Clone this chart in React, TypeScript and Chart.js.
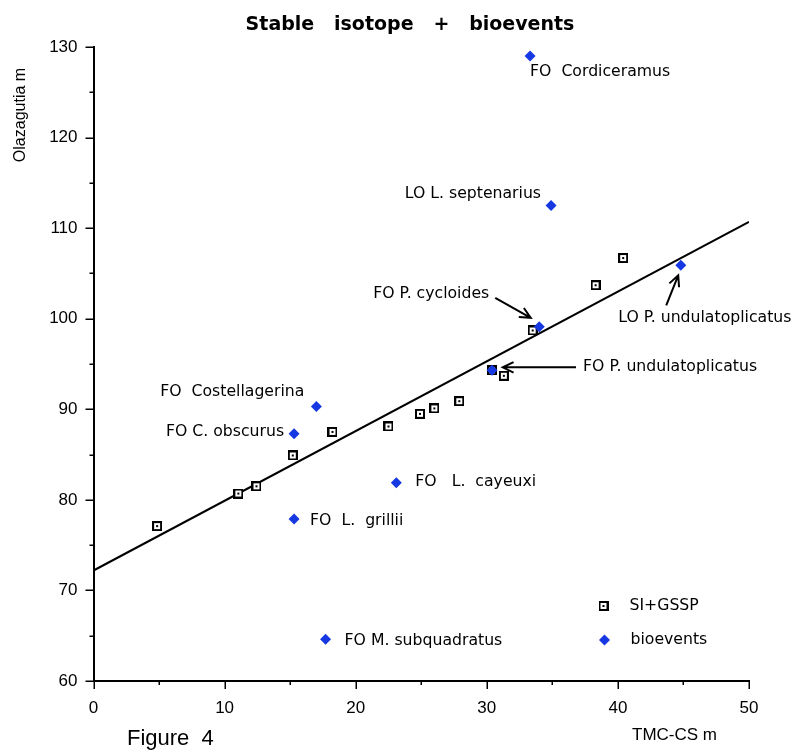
import React, { useEffect, useRef } from "react";
import { Chart, registerables } from "chart.js";

Chart.register(...registerables);

// ---- data ----
const siX = [4.85, 11.05, 12.43, 15.2, 18.23, 22.5, 24.9, 26.0, 27.9, 30.4, 31.3, 33.5, 38.3, 40.4];
const siY = [77.1, 80.7, 81.5, 84.9, 87.5, 88.1, 89.5, 90.1, 90.9, 94.3, 93.7, 98.7, 103.7, 106.7];

const bioNames = [
  "FO  Cordiceramus",
  "LO L. septenarius",
  "FO P. cycloides",
  "LO P. undulatoplicatus",
  "FO P. undulatoplicatus",
  "FO  Costellagerina",
  "FO C. obscurus",
  "FO   L.  cayeuxi",
  "FO  L.  grillii",
  "FO M. subquadratus",
];
const bioX = [33.3, 34.9, 34.0, 44.8, 30.4, 17.0, 15.3, 23.1, 15.3, 17.7];
const bioY = [129.0, 112.5, 99.1, 105.9, 94.3, 90.3, 87.3, 81.9, 77.9, 64.6];

const fitX = [0, 50];
const fitY = [72.2, 110.7];

const legendLabels = ["SI+GSSP", "bioevents"];
const titleText = "Stable   isotope   +   bioevents";
const xTitle = "TMC-CS m";
const yTitle = "Olazagutia m";
const figureText = "Figure  4";

// ---- style (pixel offsets of labels relative to their point) ----
type Lay = { dx: number; dy: number; align: CanvasTextAlign; arrow?: [number, number, number, number] };
const bioLabelLayout: Lay[] = [
  { dx: 0, dy: 16, align: "left" },
  { dx: -10, dy: -12, align: "right" },
  { dx: -50, dy: -33, align: "right", arrow: [-44, -29, -8.5, -9] },
  { dx: -62.6, dy: 53, align: "left", arrow: [-14.6, 40, -2.6, 10] },
  { dx: 91, dy: -3, align: "left", arrow: [84, -3, 10.7, -3] },
  { dx: -12, dy: -15, align: "right" },
  { dx: -10, dy: -2, align: "right" },
  { dx: 19, dy: -1, align: "left" },
  { dx: 16, dy: 2, align: "left" },
  { dx: 19, dy: 2, align: "left" },
];

const BLUE = "#1638e2";
const LABEL_FONT = '15.7px "DejaVu Sans"';

function makeSquare(): HTMLCanvasElement {
  const c = document.createElement("canvas");
  c.width = 10;
  c.height = 10;
  const g = c.getContext("2d")!;
  g.fillStyle = "#000";
  g.fillRect(0, 0, 10, 10);
  g.fillStyle = "#fff";
  g.fillRect(2, 2, 6, 6);
  g.fillStyle = "#000";
  g.fillRect(4, 4, 2, 2);
  return c;
}

function arrow(ctx: CanvasRenderingContext2D, fx: number, fy: number, tx: number, ty: number) {
  ctx.beginPath();
  ctx.moveTo(fx, fy);
  ctx.lineTo(tx, ty);
  const ang = Math.atan2(ty - fy, tx - fx);
  const L = 12;
  const a = 0.45;
  ctx.moveTo(tx - L * Math.cos(ang - a), ty - L * Math.sin(ang - a));
  ctx.lineTo(tx, ty);
  ctx.lineTo(tx - L * Math.cos(ang + a), ty - L * Math.sin(ang + a));
  ctx.stroke();
}

export default function App() {
  const ref = useRef<HTMLCanvasElement | null>(null);

  useEffect(() => {
    if (!ref.current) return;
    const square = makeSquare();

    const annotate = {
      id: "annotate",
      afterDatasetsDraw(chart: any) {
        const { ctx, chartArea } = chart;
        const xs = chart.scales.x;
        const ys = chart.scales.y;
        ctx.save();
        // tick marks
        ctx.strokeStyle = "#000";
        ctx.lineWidth = 1.5;
        ctx.beginPath();
        for (let v = xs.min; v <= xs.max; v += 5) {
          const px = Math.round(xs.getPixelForValue(v)) + 0.25;
          const len = v % 10 === 0 ? 8 : 4;
          ctx.moveTo(px, chartArea.bottom);
          ctx.lineTo(px, chartArea.bottom + len);
        }
        for (let v = ys.min; v <= ys.max; v += 5) {
          const py = Math.round(ys.getPixelForValue(v)) + 0.25;
          const len = v % 10 === 0 ? 8 : 4;
          ctx.moveTo(chartArea.left - len, py);
          ctx.lineTo(chartArea.left, py);
        }
        ctx.stroke();

        // labels + arrows
        ctx.fillStyle = "#000";
        ctx.font = LABEL_FONT;
        ctx.textBaseline = "middle";
        ctx.lineWidth = 2;
        bioNames.forEach((name, i) => {
          const px = xs.getPixelForValue(bioX[i]);
          const py = ys.getPixelForValue(bioY[i]);
          const lay = bioLabelLayout[i];
          ctx.textAlign = lay.align;
          ctx.fillText(name, px + lay.dx, py + lay.dy);
          if (lay.arrow) {
            const [a, b, c, d] = lay.arrow;
            arrow(ctx, px + a, py + b, px + c, py + d);
          }
        });

        // legend
        const lx = chartArea.left + 510;
        const ly1 = chartArea.top + 559;
        const ly2 = chartArea.top + 593;
        ctx.drawImage(square, lx - 5, ly1 - 5);
        ctx.fillStyle = BLUE;
        ctx.beginPath();
        ctx.moveTo(lx + 1, ly2 - 5.5);
        ctx.lineTo(lx + 6.5, ly2);
        ctx.lineTo(lx + 1, ly2 + 5.5);
        ctx.lineTo(lx - 4.5, ly2);
        ctx.closePath();
        ctx.fill();
        ctx.fillStyle = "#000";
        ctx.textAlign = "left";
        ctx.fillText(legendLabels[0], lx + 26, ly1);
        ctx.fillText(legendLabels[1], lx + 27, ly2);

        // title
        ctx.font = 'bold 19px "DejaVu Sans"';
        ctx.textAlign = "center";
        ctx.textBaseline = "alphabetic";
        ctx.fillText(titleText, 410, 30);

        // axis titles
        ctx.font = '17px "Liberation Sans"';
        ctx.textAlign = "left";
        ctx.fillText(xTitle, 632, 740);
        ctx.font = '22px "Liberation Sans"';
        ctx.fillText(figureText, 127, 745);

        ctx.save();
        ctx.translate(25, 115);
        ctx.rotate(-Math.PI / 2);
        ctx.font = '16px "Liberation Sans"';
        ctx.textAlign = "center";
        ctx.fillText(yTitle, 0, 0);
        ctx.restore();

        ctx.restore();
      },
    };

    const chart = new Chart(ref.current, {
      type: "scatter",
      data: {
        datasets: [
          {
            label: legendLabels[1],
            data: bioX.map((x, i) => ({ x, y: bioY[i] })),
            pointStyle: "rectRot",
            pointRadius: 5.5,
            pointBackgroundColor: BLUE,
            pointBorderColor: BLUE,
            pointBorderWidth: 0,
            backgroundColor: BLUE,
            borderColor: BLUE,
          },
          {
            label: legendLabels[0],
            data: siX.map((x, i) => ({ x, y: siY[i] })),
            pointStyle: square as any,
            pointRadius: 5,
          },
          {
            type: "line",
            label: "fit",
            data: fitX.map((x, i) => ({ x, y: fitY[i] })),
            borderColor: "#000",
            borderWidth: 2,
            pointRadius: 0,
            showLine: true,
            fill: false,
          } as any,
        ],
      },
      options: {
        animation: false,
        responsive: false,
        maintainAspectRatio: false,
        events: [],
        layout: { padding: { top: 47, right: 49, bottom: 0, left: 0 } },
        plugins: {
          legend: { display: false },
          tooltip: { enabled: false },
          title: { display: false },
        },
        scales: {
          x: {
            type: "linear",
            min: 0,
            max: 50,
            grid: { display: false, drawTicks: false },
            border: { display: true, color: "#000", width: 2 },
            ticks: {
              stepSize: 10,
              padding: 17,
              color: "#000",
              font: { family: '"Liberation Sans"', size: 17 },
            },
            afterFit: (s: any) => {
              s.height = 72;
            },
          },
          y: {
            type: "linear",
            min: 60,
            max: 130,
            grid: { display: false, drawTicks: false },
            border: { display: true, color: "#000", width: 2 },
            ticks: {
              stepSize: 10,
              padding: 16,
              color: "#000",
              font: { family: '"Liberation Sans"', size: 17 },
            },
            afterFit: (s: any) => {
              s.width = 93.5;
            },
          },
        },
      },
      plugins: [annotate],
    });
    return () => chart.destroy();
  }, []);

  return (
    <canvas
      ref={ref}
      width={798}
      height={753}
      style={{ position: "absolute", left: 0, top: 0, width: 798, height: 753, display: "block" }}
    />
  );
}
